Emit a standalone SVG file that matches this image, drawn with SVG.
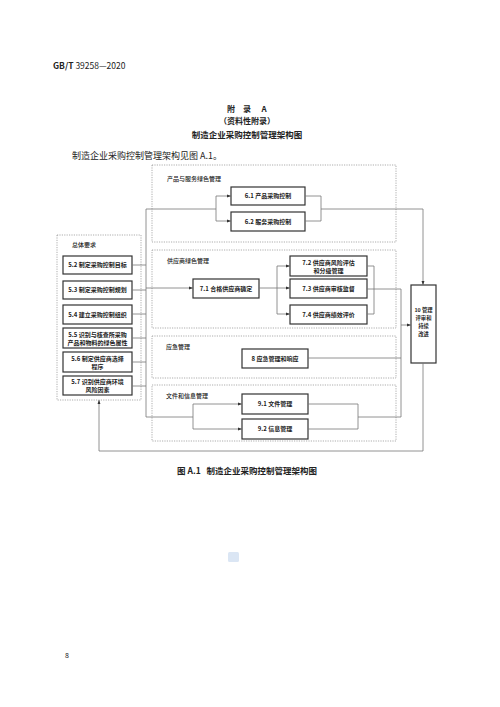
<svg xmlns="http://www.w3.org/2000/svg" width="500" height="707" viewBox="0 0 500 707">
<style>
.bg{fill:#fff}
.grp{fill:none;stroke:#8a8a8a;stroke-width:0.7;stroke-dasharray:1.2 1.2}
.box{fill:#fff;stroke:#333;stroke-width:1.2}
.ln{fill:none;stroke:#777;stroke-width:0.8}
.t{font-family:"Noto Sans CJK SC","Liberation Serif",serif;fill:#222}
.bt{font-size:6px;text-anchor:middle;font-weight:bold}
.gl{font-size:6px;font-weight:500}
.tn{font-size:5.3px;text-anchor:middle;font-weight:bold}
</style>
<defs>
<marker id="ar" viewBox="0 0 6 6" refX="6" refY="3" markerWidth="4" markerHeight="4" orient="auto" markerUnits="userSpaceOnUse">
<path d="M0,0.8 L6,3 L0,5.2 z" fill="#333"/>
</marker>
</defs>
<rect class="bg" x="0" y="0" width="500" height="707"/>

<g id="header">
<text class="t" x="53" y="69" font-size="8.5" font-family="Liberation Serif"><tspan font-weight="bold">GB/T</tspan> 39258—2020</text>
<text class="t" y="112" font-size="8" text-anchor="middle" font-weight="bold"><tspan x="231">附</tspan><tspan x="247">录</tspan><tspan x="264">A</tspan></text>
<text class="t" x="247" y="124" font-size="8" text-anchor="middle" font-weight="bold">（资料性附录）</text>
<text class="t" x="247" y="138" font-size="8.5" text-anchor="middle" font-weight="bold">制造企业采购控制管理架构图</text>
<text class="t" x="72" y="159" font-size="9">制造企业采购控制管理架构见图 A.1。</text>
</g>

<g id="group-general">
<rect class="grp" x="57" y="235" width="84" height="165"/>
<text class="t gl" x="72" y="247">总体要求</text>
</g>
<g id="n52"><rect class="box" x="63" y="256" width="69" height="18"/><text class="t bt" x="97.5" y="267">5.2 制定采购控制目标</text></g>
<g id="n53"><rect class="box" x="63" y="281" width="69" height="18"/><text class="t bt" x="97.5" y="292">5.3 制定采购控制规划</text></g>
<g id="n54"><rect class="box" x="63" y="305" width="69" height="19"/><text class="t bt" x="97.5" y="316.5">5.4 建立采购控制组织</text></g>
<g id="n55"><rect class="box" x="63" y="328" width="69" height="20"/><text class="t bt" x="97.5" y="336.5">5.5 识别与核查所采购</text><text class="t bt" x="97.5" y="344.5">产品和物料的绿色属性</text></g>
<g id="n56"><rect class="box" x="63" y="352" width="69" height="20"/><text class="t bt" x="97.5" y="360.5">5.6 制定供应商选择</text><text class="t bt" x="97.5" y="368.5">程序</text></g>
<g id="n57"><rect class="box" x="63" y="376" width="69" height="19"/><text class="t bt" x="97.5" y="384">5.7 识别供应商环境</text><text class="t bt" x="97.5" y="392">风险因素</text></g>

<g id="group-product">
<rect class="grp" x="152" y="165" width="244" height="77"/>
<text class="t gl" x="167" y="181">产品与服务绿色管理</text>
</g>
<g id="n61"><rect class="box" x="231" y="187" width="74" height="18"/><text class="t bt" x="268" y="198">6.1 产品采购控制</text></g>
<g id="n62"><rect class="box" x="231" y="212" width="74" height="19"/><text class="t bt" x="268" y="223.5">6.2 服务采购控制</text></g>

<g id="group-supplier">
<rect class="grp" x="152" y="250" width="244" height="78"/>
<text class="t gl" x="167" y="263">供应商绿色管理</text>
</g>
<g id="n71"><rect class="box" x="193" y="279" width="66" height="19"/><text class="t bt" x="226" y="290.5">7.1 合格供应商确定</text></g>
<g id="n72"><rect class="box" x="290" y="256" width="77" height="20"/><text class="t bt" x="328.5" y="264.5">7.2 供应商风险评估</text><text class="t bt" x="328.5" y="272.5">和分级管理</text></g>
<g id="n73"><rect class="box" x="290" y="279" width="77" height="19"/><text class="t bt" x="328.5" y="290.5">7.3 供应商审核监督</text></g>
<g id="n74"><rect class="box" x="290" y="305" width="77" height="19"/><text class="t bt" x="328.5" y="316.5">7.4 供应商绩效评价</text></g>

<g id="group-emergency">
<rect class="grp" x="152" y="336" width="244" height="42"/>
<text class="t gl" x="166" y="349">应急管理</text>
</g>
<g id="n8"><rect class="box" x="242" y="349" width="66" height="19"/><text class="t bt" x="275" y="360.5">8 应急管理和响应</text></g>

<g id="group-docs">
<rect class="grp" x="152" y="385" width="244" height="56"/>
<text class="t gl" x="166" y="398">文件和信息管理</text>
</g>
<g id="n91"><rect class="box" x="242" y="394" width="66" height="20"/><text class="t bt" x="275" y="406">9.1 文件管理</text></g>
<g id="n92"><rect class="box" x="242" y="419" width="66" height="20"/><text class="t bt" x="275" y="431">9.2 信息管理</text></g>

<g id="n10"><rect class="box" x="411" y="285" width="25" height="78"/>
<text class="t tn" x="423.5" y="312">10 管理</text>
<text class="t tn" x="423.5" y="320">评审和</text>
<text class="t tn" x="423.5" y="328">持续</text>
<text class="t tn" x="423.5" y="336">改进</text></g>

<g id="connectors">
<path class="ln" d="M132,265 H146 M132,290 H146 M132,314 H146 M132,338 H146 M132,362 H146 M132,386 H146"/>
<path class="ln" d="M146,209 V417"/>
<path class="ln" d="M146,209 H216 M216,196 V221"/>
<path class="ln" d="M216,196 H231" marker-end="url(#ar)"/>
<path class="ln" d="M216,221 H231" marker-end="url(#ar)"/>
<path class="ln" d="M305,196 H321 V221 H305 M321,209 H423"/>
<path class="ln" d="M423,209 V285" marker-end="url(#ar)"/>
<path class="ln" d="M146,288 H193" marker-end="url(#ar)"/>
<path class="ln" d="M259,288 H277 M277,266 V314"/>
<path class="ln" d="M277,266 H290" marker-end="url(#ar)"/>
<path class="ln" d="M277,288 H290" marker-end="url(#ar)"/>
<path class="ln" d="M277,314 H290" marker-end="url(#ar)"/>
<path class="ln" d="M367,266 H374 V314 H367 M367,289 H401 V417"/>
<path class="ln" d="M401,325 H411" marker-end="url(#ar)"/>
<path class="ln" d="M308,358 H401"/>
<path class="ln" d="M146,417 H193 M193,404 V429"/>
<path class="ln" d="M193,404 H242" marker-end="url(#ar)"/>
<path class="ln" d="M193,429 H242" marker-end="url(#ar)"/>
<path class="ln" d="M308,404 H358 V429 H308 M358,417 H401"/>
<path class="ln" d="M423,363 V451 H99 V400" marker-end="url(#ar)"/>
</g>

<g id="caption">
<text class="t" x="247" y="474" font-size="8.5" text-anchor="middle" font-weight="bold" xml:space="preserve">图 A.1   制造企业采购控制管理架构图</text>
</g>
<rect x="228" y="552" width="11" height="10" rx="1.5" fill="#dbe6f4"/>
<text class="t" x="65" y="658" font-size="7" fill="#666" font-family="Liberation Serif">8</text>
</svg>
